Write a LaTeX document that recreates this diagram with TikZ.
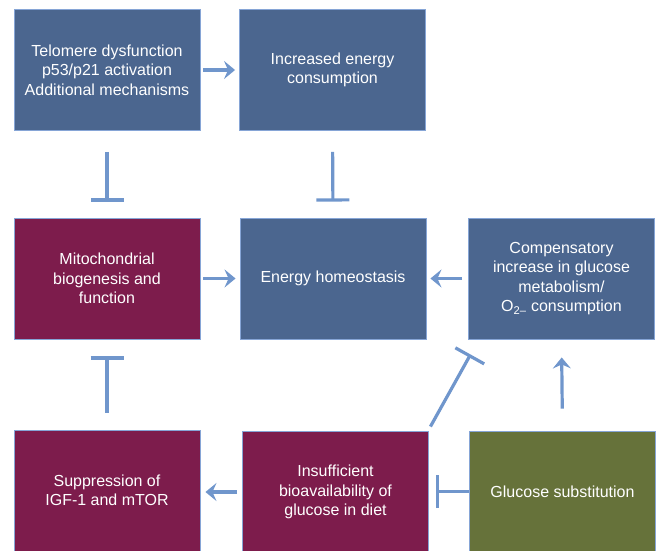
\documentclass[tikz,border=0pt]{standalone}
\usepackage{fontspec}
\setmainfont{Liberation Sans}
\usetikzlibrary{arrows.meta}
\definecolor{boxblue}{HTML}{4B668F}
\definecolor{boxwine}{HTML}{7D1C4C}
\definecolor{boxolive}{HTML}{66723A}
\definecolor{edgeblue}{HTML}{86A5D6}
\definecolor{linkblue}{HTML}{7096CC}
\tikzset{
  box/.style={draw=edgeblue, line width=0.9pt, minimum width=186pt, minimum height=121pt,
    inner sep=0pt, text=white, align=center, font=\fontsize{16}{19.5}\selectfont},
  link/.style={draw=linkblue, line width=3.2pt},
  go/.style={link, -{Stealth[length=11pt,width=18pt,inset=4pt]}},
  stop/.style={link, -{Bar[width=33pt]}}
}
\begin{document}
\begin{tikzpicture}[x=1pt,y=-1pt]
  \useasboundingbox (0,0) rectangle (657,551);
  % boxes
  \node[box, fill=boxblue] (trigger) at (107,70) {Telomere dysfunction\\p53/p21 activation\\Additional mechanisms};
  \node[box, fill=boxblue] (demand) at (332.5,70) {Increased energy\\consumption};
  \node[box, fill=boxwine] (mito) at (107,278.5) {Mitochondrial\\biogenesis and\\function};
  \node[box, fill=boxblue] (homeo) at (333,278.5) {Energy homeostasis};
  \node[box, fill=boxblue] (compens) at (561.5,278.5) {Compensatory\\increase in glucose\\metabolism/\\O\textsubscript{2–} consumption};
  \node[box, fill=boxwine] (suppress) at (107,490.5) {Suppression of\\IGF-1 and mTOR};
  \node[box, fill=boxwine] (deficit) at (335.5,492) {Insufficient\\bioavailability of\\glucose in diet};
  \node[box, fill=boxolive] (substit) at (562.5,491.5) {Glucose substitution};
  % connectors
  \draw[go, shorten <=3pt, shorten >=4pt] (trigger.east) -- (demand.west);
  \draw[go, shorten <=3pt, shorten >=4pt] (mito.east) -- (homeo.west);
  \draw[go, shorten <=6pt, shorten >=4pt] (compens.west) -- (homeo.east);
  \draw[go, shorten <=5pt, shorten >=5pt] (deficit.west) -- (deficit.west -| suppress.east);
  \draw[go, shorten <=22pt, shorten >=18pt] (substit.north) -- (compens.south);
  \draw[stop, shorten <=21pt, shorten >=16pt] (trigger.south) -- (mito.north);
  \draw[stop, shorten <=21pt, shorten >=16pt] (demand.south) -- (homeo.north);
  \draw[stop, shorten <=17pt, shorten >=17pt] (suppress.north) -- (mito.south);
  \draw[stop, shorten >=7pt] (substit.west) -- (substit.west -| deficit.east);
  \draw[stop] ([shift={(1.5,-4.5)}]deficit.north east) -- ([shift={(2.5,15)}]compens.south west);
\end{tikzpicture}
\end{document}
